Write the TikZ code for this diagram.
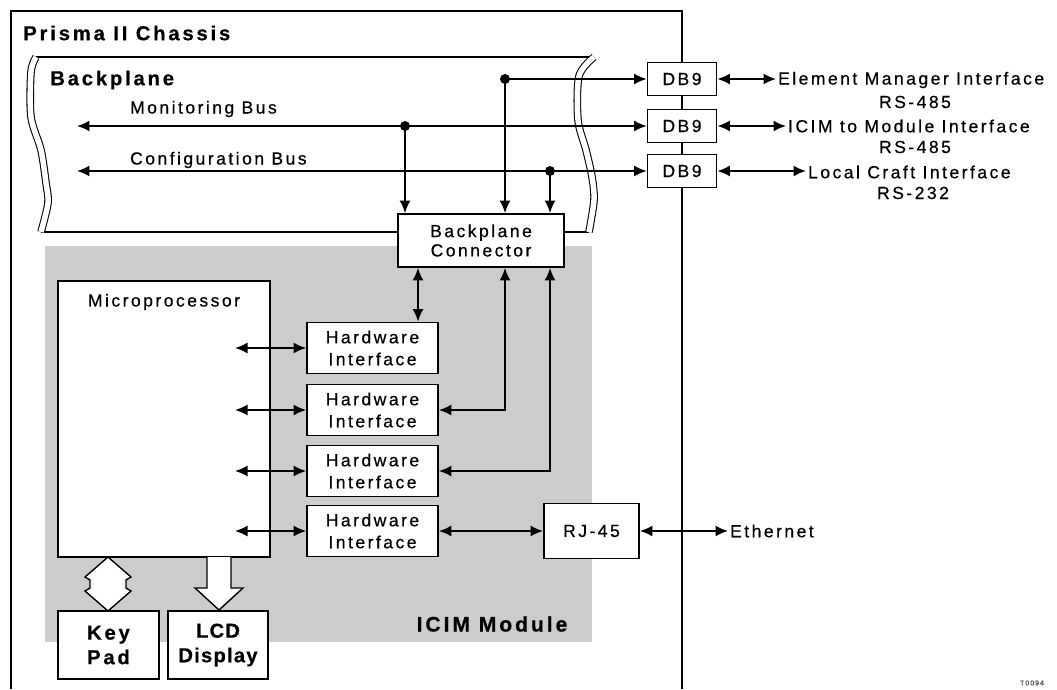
\documentclass[tikz,border=0pt]{standalone}
\usepackage{fontspec}
\setmainfont{Liberation Sans}[LetterSpace=14, FakeBold=0.5]
\usetikzlibrary{arrows.meta, calc, positioning}

\begin{document}
\begin{tikzpicture}[x=0.02cm, y=-0.02cm, >={Latex[length=2.5mm,width=2.2mm]},
    box/.style={draw, line width=1pt, fill=white, align=center, inner sep=0pt,
        font=\fontsize{10}{12}\selectfont},
    bus/.style={line width=1pt},
    dot/.style={circle, fill=black, inner sep=0pt, minimum size=0.2cm},
    lbl/.style={inner sep=1pt, font=\fontsize{10}{12}\selectfont},
    title/.style={inner sep=0pt, font=\fontsize{11.5}{14}\selectfont\bfseries},
    wave/.style={double, line width=0.6pt, double distance=0.11cm}]
    \useasboundingbox (0,0) rectangle (1057,689);

    % ICIM module area
    \fill[black!20] (45,246) rectangle (592,642);

    % chassis
    \draw[line width=1.3pt] (11,689) -- (11,11) -- (682,11) -- (682,689);
    \node[title, anchor=west] (chassis) at (23,33) {Prisma II Chassis};

    % backplane
    \draw[line width=1pt] (36,57) -- (594,57);
    \draw[line width=1pt] (41,232) -- (589,232);
    \draw[wave] plot[smooth] coordinates {(36,57) (31,72) (31,117) (41,150) (46,183) (48,203) (41,232)};
    \draw[wave] plot[smooth] coordinates {(594,57) (579,76) (578,120) (586,150) (592,177) (594,200) (589,232)};
    \node[title, anchor=west] (backplane) at (50,80) {Backplane};

    % DB9 ports
    \node[box, minimum width=1.38cm, minimum height=0.66cm] (db1) at (682,79) {DB9};
    \node[box, minimum width=1.38cm, minimum height=0.66cm] (db2) at (682,126) {DB9};
    \node[box, minimum width=1.38cm, minimum height=0.66cm] (db3) at (682,171) {DB9};

    % buses
    \node[dot] (emdot) at (505,79) {};
    \node[dot] (mondot) at (405,126) {};
    \node[dot] (cfgdot) at (550,171) {};
    \coordinate (monend) at (77,126);
    \coordinate (cfgend) at (77,171);
    \draw[bus, ->] (emdot.center) -- (db1.west);
    \draw[bus, <->] (monend) -- (db2.west);
    \draw[bus, <->] (cfgend) -- (db3.west);
    \node[lbl, anchor=west] (monlbl) at (128,109) {Monitoring Bus};
    \node[lbl, anchor=west] (cfglbl) at (128,160) {Configuration Bus};

    % backplane connector
    \node[box, minimum width=3.32cm, minimum height=1.06cm, font=\fontsize{10}{11}\selectfont] (bpc) at (481,240.5) {Backplane\\Connector};
    \draw[bus, ->] (mondot.center) -- (mondot.center |- bpc.north);
    \draw[bus, ->] (emdot.center) -- (emdot.center |- bpc.north);
    \draw[bus, ->] (cfgdot.center) -- (cfgdot.center |- bpc.north);

    % microprocessor
    \node[box, minimum width=4.24cm, minimum height=5.52cm] (mp) at (164,419) {};
    \node[lbl] (mplbl) at (164,302) {Microprocessor};

    % hardware interfaces
    \foreach \i/\y in {1/348, 2/410, 3/471, 4/531} {
        \node[box, minimum width=2.62cm, minimum height=1.02cm, font=\fontsize{10}{12.5}\selectfont] (hw\i) at (372.5,\y) {Hardware\\Interface};
        \coordinate (mp\i) at (235,\y);
        \draw[bus, <->] (mp\i) -- (hw\i.west);
    }

    % connector to interfaces
    \coordinate (l1) at (418,0);
    \coordinate (l2) at (505,0);
    \coordinate (l3) at (550,0);
    \draw[bus, <->] (bpc.south -| l1) -- (hw1.north -| l1);
    \draw[bus, <->] (bpc.south -| l2) |- (hw2.east);
    \draw[bus, <->] (bpc.south -| l3) |- (hw3.east);

    % RJ-45 and Ethernet
    \node[box, minimum width=1.9cm, minimum height=1.1cm] (rj) at (591.5,531) {RJ-45};
    \draw[bus, <->] (hw4.east) -- (rj.west);
    \node[lbl, anchor=west] (eth) at (728,531) {Ethernet};
    \draw[bus, <->] (rj.east) -- (eth.west);

    % external interfaces
    \node[lbl, anchor=west] (emi) at (776,80) {Element Manager Interface};
    \node[lbl] (emirs) at (915,102) {RS-485};
    \node[lbl, anchor=west] (icm) at (786,126) {ICIM to Module Interface};
    \node[lbl] (icmrs) at (915,147) {RS-485};
    \node[lbl, anchor=west] (lci) at (806,172) {Local Craft Interface};
    \node[lbl] (lcirs) at (913,193) {RS-232};
    \draw[bus, <->] (db1.east) -- (db1.east -| emi.west);
    \draw[bus, <->] (db2.east) -- (db2.east -| icm.west);
    \draw[bus, <->] (db3.east) -- (db3.east -| lci.west);

    % key pad and display
    \node[box, minimum width=2.02cm, minimum height=1.36cm, font=\fontsize{11.5}{14}\selectfont\bfseries] (kp) at (108.5,645) {Key\\Pad};
    \node[box, minimum width=2cm, minimum height=1.36cm, font=\fontsize{11.5}{14}\selectfont\bfseries\addfontfeatures{LetterSpace=6}] (lcd) at (218,645) {LCD\\Display};
    \draw[line width=0.8pt, fill=white] (108,557) -- (85,577) -- (90,580) -- (90,588) -- (85,591) -- (108,611)
        -- (131,591) -- (126,588) -- (126,580) -- (131,577) -- cycle;
    \draw[line width=0.8pt, fill=white] (207,557) -- (207,588) -- (195,588) -- (219,610) -- (243,588)
        -- (231,588) -- (231,557);

    \node[font=\fontsize{12}{14}\selectfont\bfseries] (icim) at (492,624) {ICIM Module};
    \node[font=\fontsize{4}{5}\selectfont, text=black!70] (tag) at (1032,683) {T0094};
\end{tikzpicture}
\end{document}
